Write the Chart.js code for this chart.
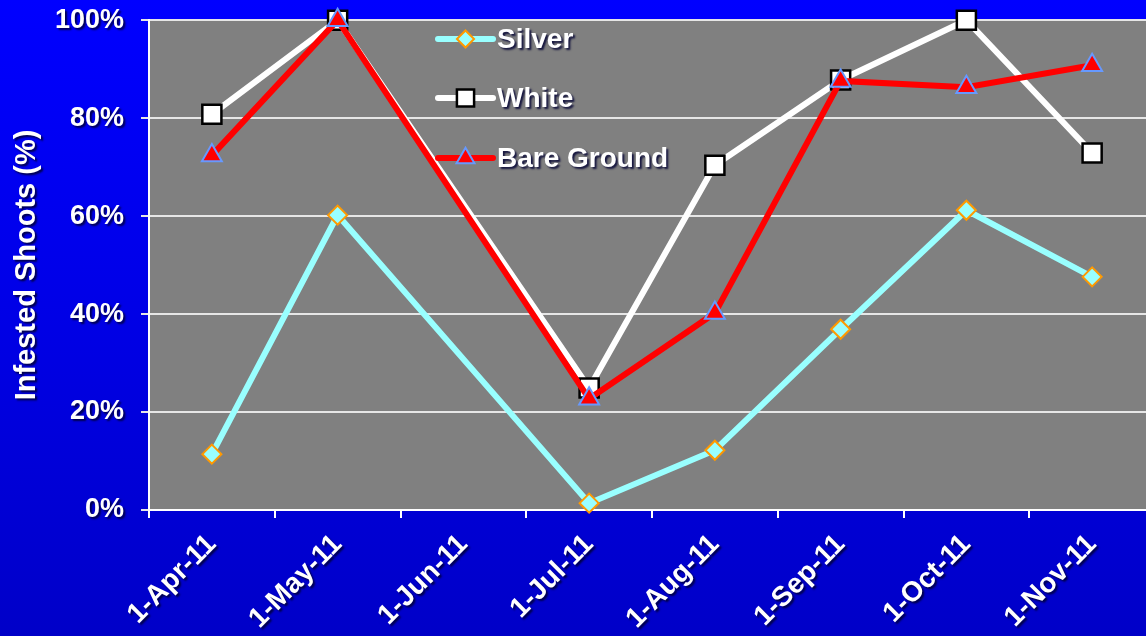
<html><head>
<title>Infested Shoots by Mulch Colour</title>
<script src="https://cdn.jsdelivr.net/npm/chart.js"></script>
<style>
  html, body {
    margin: 0;
    padding: 0;
    width: 1146px;
    height: 636px;
    overflow: hidden;
    background: linear-gradient(to bottom, #0000ff 0%, #0000e6 50%, #0000c8 100%);
  }
  /* chart.js keeps ~13px above the top tick label, so pull the canvas up */
  #wrap {
    position: absolute;
    left: 0;
    top: -13px;
  }
</style>
</head>
<body>
<div id="wrap">
  <canvas id="shootsChart" width="1171" height="649"></canvas>
</div>

<script>
// sample dates (no June sampling)
const dates = ['1-Apr-11', '1-May-11', '1-Jun-11', '1-Jul-11', '1-Aug-11', '1-Sep-11', '1-Oct-11', '1-Nov-11'];

// infested shoots, percent
const silver = [11.4, 60.2, null, 1.4, 12.2, 36.9, 61.2, 47.6];
const white = [80.8, 100, null, 24.9, 70.4, 87.8, 100, 72.9];
const bareGround = [72.4, 100, null, 22.7, 40.2, 87.6, 86.3, 90.8];

const yTicks = [0, 20, 40, 60, 80, 100];
const yTitle = 'Infested Shoots (%)';

const FONT = '"Liberation Sans", Arial, sans-serif';
const SHIFT = 13; // canvas offset from the page top

function setShadow(ctx) {
  ctx.shadowColor = 'rgba(0,0,50,0.85)';
  ctx.shadowOffsetX = 2;
  ctx.shadowOffsetY = 2;
  ctx.shadowBlur = 2;
}

// grey plot area
const plotBg = {
  id: 'plotBg',
  beforeDraw(chart) {
    const {ctx, chartArea: a} = chart;
    ctx.save();
    ctx.fillStyle = '#808080';
    ctx.fillRect(a.left, a.top, a.right - a.left, a.bottom - a.top);
    ctx.restore();
  }
};

// tick labels get drawn after datasets (z:1), so shadow goes on them only
const textShadow = {
  id: 'textShadow',
  afterDatasetsDraw(chart) {
    chart.ctx.save();
    setShadow(chart.ctx);
  },
  afterDraw(chart) {
    const ctx = chart.ctx;
    ctx.restore();

    // y axis title
    ctx.save();
    setShadow(ctx);
    ctx.translate(27, 265 + SHIFT);
    ctx.rotate(-Math.PI / 2);
    ctx.fillStyle = '#fff';
    ctx.font = 'bold 29px ' + FONT;
    ctx.textAlign = 'center';
    ctx.textBaseline = 'middle';
    ctx.fillText(yTitle, 0, 0);
    ctx.restore();

    // legend inside plot
    const x0 = 438, x1 = 493;
    const rows = [39, 98, 158];
    chart.data.datasets.forEach((ds, i) => {
      const y = rows[i] + SHIFT;
      ctx.save();
      ctx.strokeStyle = ds.borderColor;
      ctx.lineWidth = ds.borderWidth;
      ctx.lineCap = 'round';
      ctx.beginPath();
      ctx.moveTo(x0, y);
      ctx.lineTo(x1, y);
      ctx.stroke();
      ctx.fillStyle = ds.pointBackgroundColor;
      ctx.strokeStyle = ds.pointBorderColor;
      ctx.lineWidth = ds.pointBorderWidth;
      Chart.helpers.drawPoint(ctx, {pointStyle: ds.pointStyle, radius: ds.pointRadius * 0.9, borderWidth: ds.pointBorderWidth}, (x0 + x1) / 2, y);
      setShadow(ctx);
      ctx.fillStyle = '#fff';
      ctx.font = 'bold 28px ' + FONT;
      ctx.textBaseline = 'middle';
      ctx.fillText(ds.label, 497, y + 1);
      ctx.restore();
    });
  }
};

new Chart(document.getElementById('shootsChart'), {
  type: 'line',
  data: {
    labels: dates,
    datasets: [
      {
        label: 'Silver',
        data: silver,
        borderColor: '#99ffff',
        borderWidth: 6,
        pointStyle: 'rectRot',
        pointRadius: 9.5,
        pointBackgroundColor: '#99ffff',
        pointBorderColor: '#ff9900',
        pointBorderWidth: 2,
        spanGaps: true,
        order: 3
      },
      {
        label: 'White',
        data: white,
        borderColor: '#ffffff',
        borderWidth: 6,
        pointStyle: 'rect',
        pointRadius: 13.5,
        pointBackgroundColor: '#ffffff',
        pointBorderColor: '#000000',
        pointBorderWidth: 2.5,
        spanGaps: true,
        order: 2
      },
      {
        label: 'Bare Ground',
        data: bareGround,
        borderColor: '#ff0000',
        borderWidth: 6,
        pointStyle: 'triangle',
        pointRadius: 11.5,
        pointBackgroundColor: '#ff0000',
        pointBorderColor: '#6699ff',
        pointBorderWidth: 2,
        spanGaps: true,
        order: 1
      }
    ]
  },
  options: {
    responsive: false,
    animation: false,
    devicePixelRatio: 1,
    layout: {padding: {top: 7, left: 0, right: 0, bottom: 0}},
    plugins: {
      legend: {display: false},
      tooltip: {enabled: false}
    },
    clip: false,
    scales: {
      x: {
        offset: true,
        grid: {
          offset: true,
          drawOnChartArea: false,
          drawTicks: true,
          tickLength: 8,
          color: '#ffffff',
          lineWidth: 2
        },
        border: {color: '#ffffff', width: 2},
        ticks: {
          z: 1,
          color: '#ffffff',
          font: {family: FONT, size: 28, weight: 'bold'},
          minRotation: 45,
          maxRotation: 45,
          padding: 10,
          autoSkip: false
        },
        afterFit(scale) { scale.height = 126; }
      },
      y: {
        min: 0,
        max: 100,
        afterBuildTicks(scale) {
          scale.ticks = yTicks.map(v => ({value: v}));
        },
        grid: {
          color: '#e6e6e6',
          lineWidth: 2,
          tickLength: 8
        },
        border: {color: '#ffffff', width: 2},
        ticks: {
          z: 1,
          color: '#ffffff',
          font: {family: FONT, size: 27, weight: 'bold'},
          padding: 17,
          callback: v => v + '%'
        },
        afterFit(scale) { scale.width = 149; }
      }
    }
  },
  plugins: [plotBg, textShadow]
});
</script>
</body></html>
